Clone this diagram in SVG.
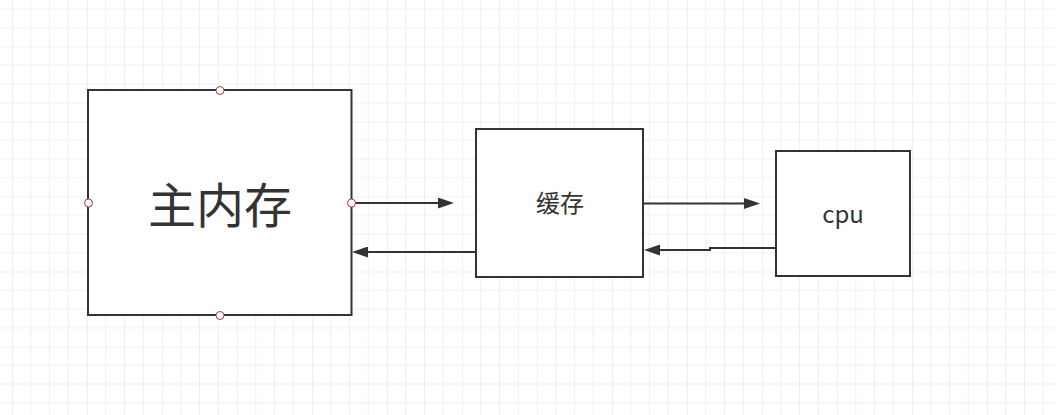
<svg xmlns="http://www.w3.org/2000/svg" width="1056" height="415" viewBox="0 0 1056 415">
  <style>
    .box { fill: #ffffff; stroke: #333333; stroke-width: 2; }
    .lbl { font-family: "Noto Sans CJK SC", "Noto Sans", sans-serif; fill: #333333; text-anchor: middle; }
    .conn { fill: none; stroke: #333333; stroke-width: 2; marker-end: url(#arrow); }
    .pt { fill: #ffffff; stroke: #a33b3b; stroke-width: 1; }
  </style>
  <defs>
    <pattern id="grid" patternUnits="userSpaceOnUse" x="12" y="46.5" width="75" height="75">
      <path d="M18.75 0V75M37.5 0V75M56.25 0V75M0 18.75H75M0 37.5H75M0 56.25H75" stroke="#efefef" stroke-width="1" fill="none"/>
      <path d="M0 0V75M0 0H75" stroke="#e2e2e2" stroke-width="1" fill="none"/>
    </pattern>
    <marker id="arrow" viewBox="0 0 16 11" refX="0" refY="5.5" markerWidth="16" markerHeight="11" markerUnits="userSpaceOnUse" orient="auto">
      <path d="M0 0L16 5.5L0 11Z" fill="#333333"/>
    </marker>
  </defs>
  <rect width="1056" height="415" fill="#ffffff"/>
  <rect width="1056" height="415" fill="url(#grid)"/>

  <g id="connectors">
    <path class="conn" d="M352 203H438"/>
    <path class="conn" d="M476 252H368"/>
    <path class="conn" d="M643 203.5H744"/>
    <path class="conn" d="M776 248H710V250H660"/>
  </g>

  <g id="main-memory">
    <rect class="box" x="88" y="90" width="263.5" height="225"/>
    <text class="lbl" x="220" y="223" font-size="48">主内存</text>
    <circle class="pt" cx="220" cy="90.5" r="4"/>
    <circle class="pt" cx="88.5" cy="203" r="4"/>
    <circle class="pt" cx="351.5" cy="203" r="4"/>
    <circle class="pt" cx="220" cy="315.5" r="4"/>
  </g>

  <g id="cache">
    <rect class="box" x="476" y="129" width="167" height="148"/>
    <text class="lbl" x="560" y="212" font-size="24">缓存</text>
  </g>

  <g id="cpu">
    <rect class="box" x="776" y="151" width="134" height="125"/>
    <text class="lbl" x="843" y="223" font-size="24">cpu</text>
  </g>
</svg>
